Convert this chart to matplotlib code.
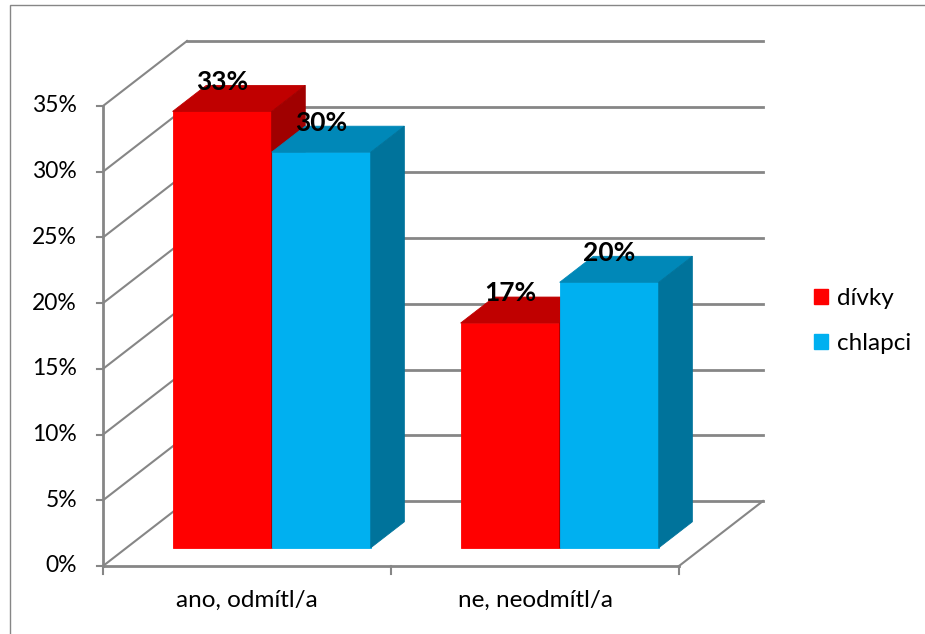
import matplotlib

matplotlib.use("Agg")
import matplotlib.pyplot as plt
from matplotlib.patches import Patch, Rectangle

# data
categories = ["ano, odmítl/a", "ne, neodmítl/a"]
series_names = ["dívky", "chlapci"]
divky = [33.2, 17.1]
chlapci = [30.1, 20.2]
y_ticks = [0, 5, 10, 15, 20, 25, 30, 35]

# colours: front, top, side
COLORS = {
    "dívky": ("#FF0000", "#C00000", "#A00000"),
    "chlapci": ("#00B0F0", "#0088B8", "#00739B"),
}
GRID = "#868686"

# oblique 3D projection (depth 0 = front plane, 1 = back wall)
DX = 84 / 288
DY = 65 / 13.143
BAR_W = 0.344
BAR_GAP = 0.16
D0, D1 = 0.28, 0.68


def proj(u, v, d):
    return u + d * DX, v + d * DY


def poly(ax, pts, color):
    xs, ys = zip(*pts)
    ax.fill(xs, ys, color=color, lw=0.6, ec=color, zorder=3)


def draw_bar(ax, u0, value, colors):
    u1 = u0 + BAR_W
    front, top, side = colors
    poly(ax, [proj(u0, 0, D0), proj(u1, 0, D0), proj(u1, value, D0), proj(u0, value, D0)], front)
    poly(ax, [proj(u0, value, D0), proj(u1, value, D0), proj(u1, value, D1), proj(u0, value, D1)], top)
    poly(ax, [proj(u1, 0, D0), proj(u1, 0, D1), proj(u1, value, D1), proj(u1, value, D0)], side)


plt.rcParams["font.family"] = ["Lato", "DejaVu Sans"]

fig = plt.figure(figsize=(9.25, 6.34), dpi=100)
ax = fig.add_axes([0, 0, 1, 1])
ax.set_xlim(-103 / 288, 822 / 288)
ax.set_ylim(-68 / 13.143, 566 / 13.143)
ax.axis("off")

# outer chart border (only top and left are inside the picture)
fig.patches.append(
    Rectangle((9.5 / 925, -0.5), 1.5, 1.5 - 4.5 / 634, transform=fig.transFigure,
              fill=False, ec=GRID, lw=1.0)
)

n_cat = len(categories)

# walls and grid
for t in y_ticks:
    (x0, y0), (x1, y1) = proj(0, t, 0), proj(0, t, 1)
    ax.plot([x0, x1], [y0, y1], color=GRID, lw=1.5, zorder=1)
    (x2, y2) = proj(n_cat, t, 1)
    ax.plot([x1, x2], [y1, y2], color=GRID, lw=2.0, zorder=1)
    ax.plot([-6 / 288, 0], [t, t], color=GRID, lw=1.5, zorder=1)
    ax.text(-26 / 288, t, f"{t}%", ha="right", va="center", fontsize=16.5)

# floor and axes
ax.plot([0, 0], [0, y_ticks[-1]], color=GRID, lw=2.0, zorder=1)
ax.plot([0, n_cat], [0, 0], color=GRID, lw=2.0, zorder=1)
(fx, fy), (bx, by) = proj(n_cat, 0, 0), proj(n_cat, 0, 1)
ax.plot([fx, bx], [fy, by], color=GRID, lw=1.5, zorder=1)
for i in range(n_cat + 1):
    ax.plot([i, i], [0, -8 / 13.143], color=GRID, lw=1.5, zorder=1)

# bars
for i, name in enumerate(categories):
    for j, (sname, vals) in enumerate(zip(series_names, [divky, chlapci])):
        u0 = i + BAR_GAP + j * BAR_W
        draw_bar(ax, u0, vals[i], COLORS[sname])
        cx, _ = proj(u0 + BAR_W / 2, 0, D0)
        _, cy = proj(0, vals[i], D0)
        ax.text(cx, cy + 2.25, f"{vals[i]:.0f}%", ha="center", va="center",
                fontsize=19, fontweight="bold", zorder=5)
    ax.text(i + 0.5, -34 / 13.143, name, ha="center", va="center", fontsize=17.5)

handles = [Patch(color=COLORS[s][0]) for s in series_names]
fig.legend(handles, series_names, loc="center left", bbox_to_anchor=(814 / 925, 1 - 321 / 634),
           frameon=False, fontsize=17.5, borderpad=0, borderaxespad=0,
           handlelength=0.58, handleheight=0.58, handletextpad=0.35, labelspacing=1.0)

fig.savefig("out.png", dpi=100)
